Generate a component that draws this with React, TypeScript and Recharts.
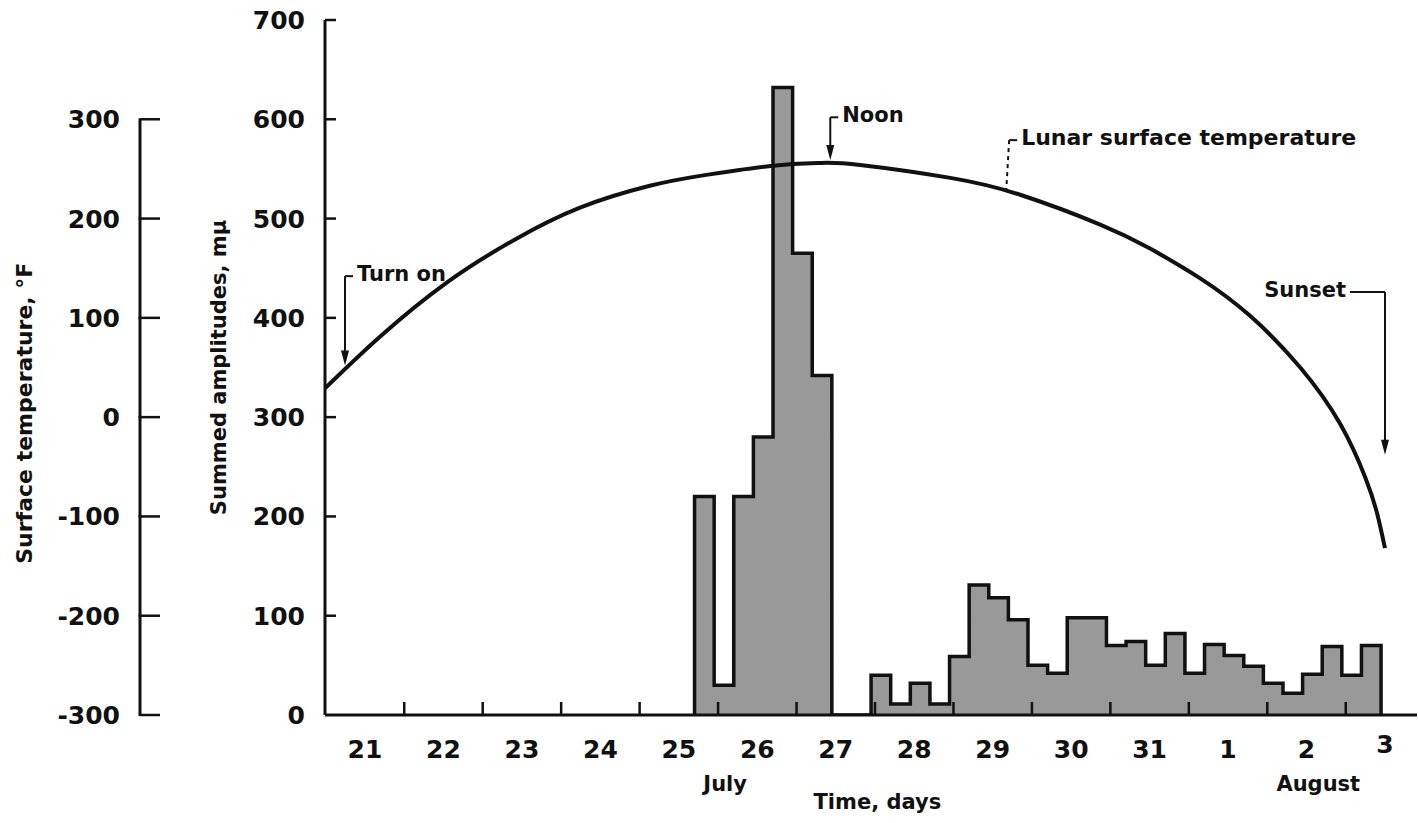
import React from 'react';
import { ComposedChart, Area, Line, XAxis, YAxis, ReferenceLine } from 'recharts';

// ---------- layout ----------
const CHART_W = 1418;
const CHART_H = 823;
const MARGIN = { top: 20, right: 1, bottom: 0, left: 0 };
const TEMP_AXIS_W = 140;
const AMP_AXIS_W = 185;
const DAY_AXIS_H = 108;
const PLOT_H = CHART_H - MARGIN.top - MARGIN.bottom - DAY_AXIS_H;

const FONT = "'DejaVu Sans', 'Liberation Sans', sans-serif";
const INK = '#111';
const BAR_FILL = '#999999';

// ---------- x axis (days) ----------
const dayDomain = [20.49, 34.408];
const dayTicks = [21, 22, 23, 24, 25, 26, 27, 28, 29, 30, 31, 32, 33, 34];
const dayLabels = ['21', '22', '23', '24', '25', '26', '27', '28', '29', '30', '31', '1', '2', '3'];
const dayMarks = [21.5, 22.5, 23.5, 24.5, 25.5, 26.5, 27.5, 28.5, 29.5, 30.5, 31.5, 32.5, 33.5];
const monthDays = [25.59, 33.15];
const monthNames = ['July', 'August'];
const xTitleDay = 27.53;
const xTitle = 'Time, days';

// ---------- y axes ----------
const ampDomain = [0, 700];
const ampTicks = [0, 100, 200, 300, 400, 500, 600, 700];
const ampTitleAt = 350;
const ampTitle = 'Summed amplitudes, m\u03bc';

const tempDomain = [-300, 400];
const tempTicks = [-300, -200, -100, 0, 100, 200, 300];
const tempTitleAt = 4;
const tempTitle = 'Surface temperature, \u00b0F';

// ---------- histogram (quarter-day bins) ----------
const binStart = 25.2;
const binWidth = 0.25;
const binAmplitudes = [
  220, 30, 220, 280, 632, 465, 342, 0, 0,
  40, 11, 32, 11, 59, 131, 118, 96, 50, 42,
  98, 98, 70, 74, 50, 82, 42, 71, 60, 49,
  32, 22, 41, 69, 40, 70,
];

// ---------- lunar surface temperature ----------
const tempDays = [20.49, 21.19, 22.05, 22.89, 23.74, 24.63, 25.27, 26.17, 26.8, 27.31, 28.46, 29.35, 30.37, 31.0, 31.64, 32.28, 32.92, 33.43, 33.75, 33.9, 34.0];
const tempValues = [29, 81, 136, 178, 211, 233, 243, 253, 256, 254, 241, 224, 194, 170, 140, 102, 50, -7, -61, -97, -132];

// ---------- annotations ----------
const annotLabels = ['Turn on', 'Noon', 'Lunar surface temperature', 'Sunset'];
const annotDays = [20.745, 26.93, 29.21, 34.0];
const annotTipDays = [20.745, 26.93, 29.17, 34.0];
const annotTop = [442, 602, 579, 426];
const annotTip = [352, 559, 525, 262];
const annotSide = ['right', 'right', 'right', 'left'];
const annotDashed = [false, false, true, false];
const annotArrow = [true, true, false, true];
const annotFontSize = [21, 21, 22, 21];

// ---------- derived tables ----------
const histData = [
  { day: binStart, amp: 0 },
  ...binAmplitudes.map((a, i) => ({ day: binStart + i * binWidth, amp: a })),
  { day: binStart + binAmplitudes.length * binWidth, amp: 0 },
];
const tempData = tempDays.map((d, i) => ({ day: d, temp: tempValues[i] }));
const xAxisTicks = [...dayTicks, ...dayMarks, ...monthDays, xTitleDay];

const textStyle = { fontFamily: FONT, fontWeight: 700, fill: INK } as const;

function DayTick(props: any) {
  const { x, y, payload } = props;
  const v = payload.value;
  const di = dayTicks.indexOf(v);
  if (di >= 0) {
    const raise = v === dayTicks[dayTicks.length - 1] ? 5 : 0;
    return (
      <text x={x} y={y + 43 - raise} textAnchor="middle" fontSize={25} {...textStyle}>
        {dayLabels[di]}
      </text>
    );
  }
  if (dayMarks.indexOf(v) >= 0) {
    return <line x1={x} x2={x} y1={y} y2={y - 13} stroke={INK} strokeWidth={2.5} />;
  }
  const mi = monthDays.indexOf(v);
  if (mi >= 0) {
    return (
      <text x={x} y={y + 76} textAnchor="middle" fontSize={21} {...textStyle}>
        {monthNames[mi]}
      </text>
    );
  }
  if (v === xTitleDay) {
    return (
      <text x={x} y={y + 94} textAnchor="middle" fontSize={21} {...textStyle}>
        {xTitle}
      </text>
    );
  }
  return null;
}

function AmpTick(props: any) {
  const { x, y, payload } = props;
  const v = payload.value;
  if (v === ampTitleAt) {
    return (
      <text x={x - 99} y={y} textAnchor="middle" fontSize={21} transform={`rotate(-90 ${x - 99} ${y})`} {...textStyle}>
        {ampTitle}
      </text>
    );
  }
  return (
    <g>
      {v !== ampTicks[0] && <line x1={x} x2={x + 11} y1={y} y2={y} stroke={INK} strokeWidth={2.5} />}
      <text x={x - 20} y={y + 9} textAnchor="end" fontSize={25} {...textStyle}>
        {v}
      </text>
    </g>
  );
}

const TEMP_STEP = (PLOT_H / (tempDomain[1] - tempDomain[0])) * 100;

function TempTick(props: any) {
  const { x, y, payload } = props;
  const v = payload.value;
  if (v === tempTitleAt) {
    return (
      <text x={x - 108} y={y} textAnchor="middle" fontSize={22} transform={`rotate(-90 ${x - 108} ${y})`} {...textStyle}>
        {tempTitle}
      </text>
    );
  }
  return (
    <g>
      <line x1={x} x2={x + 20} y1={y} y2={y} stroke={INK} strokeWidth={2.5} />
      {v > tempTicks[0] && (
        <line x1={x} x2={x} y1={y - 1} y2={y + TEMP_STEP + 1} stroke={INK} strokeWidth={3} />
      )}
      <text x={x - 20} y={y + 9} textAnchor="end" fontSize={25} {...textStyle}>
        {v}
      </text>
    </g>
  );
}

function makeAnnot(idx: number) {
  return (p: any) => {
    const { x1, y1, x2, y2 } = p;
    const dir = annotSide[idx] === 'left' ? -1 : 1;
    const bracketLen = annotSide[idx] === 'left' ? 35 : 8;
    const hasArrow = annotArrow[idx];
    const shaftEnd = hasArrow ? y2 - 12 : y2;
    return (
      <g>
        <line
          x1={x1}
          y1={y1}
          x2={x2}
          y2={shaftEnd}
          stroke={INK}
          strokeWidth={2}
          strokeDasharray={annotDashed[idx] ? '4 4' : undefined}
        />
        {hasArrow && <polygon points={`${x2 - 4},${y2 - 15} ${x2 + 4},${y2 - 15} ${x2},${y2}`} fill={INK} />}
        <line x1={x1} y1={y1} x2={x1 + dir * bracketLen} y2={y1} stroke={INK} strokeWidth={2} />
        <text
          x={x1 + dir * (bracketLen + 4)}
          y={y1 + 5}
          textAnchor={dir > 0 ? 'start' : 'end'}
          fontSize={annotFontSize[idx]}
          {...textStyle}
        >
          {annotLabels[idx]}
        </text>
      </g>
    );
  };
}

export default function App() {
  return (
    <div style={{ position: 'absolute', left: 0, top: 0, width: CHART_W, height: CHART_H, background: '#fff' }}>
      <ComposedChart width={CHART_W} height={CHART_H} margin={MARGIN}>
        <XAxis
          xAxisId="days"
          type="number"
          dataKey="day"
          domain={dayDomain}
          allowDataOverflow
          ticks={xAxisTicks}
          interval={0}
          height={DAY_AXIS_H}
          axisLine={{ stroke: INK, strokeWidth: 3 }}
          tickLine={false}
          tickSize={0}
          tickMargin={0}
          tick={<DayTick />}
        />
        <YAxis
          yAxisId="amp"
          type="number"
          domain={ampDomain}
          allowDataOverflow
          ticks={[...ampTicks, ampTitleAt]}
          interval={0}
          width={AMP_AXIS_W}
          axisLine={{ stroke: INK, strokeWidth: 3 }}
          tickLine={false}
          tickSize={0}
          tickMargin={0}
          tick={<AmpTick />}
        />
        <YAxis
          yAxisId="temp"
          type="number"
          domain={tempDomain}
          allowDataOverflow
          ticks={[...tempTicks, tempTitleAt]}
          interval={0}
          width={TEMP_AXIS_W}
          axisLine={false}
          tickLine={false}
          tickSize={0}
          tickMargin={0}
          tick={<TempTick />}
        />
        <Area
          xAxisId="days"
          yAxisId="amp"
          data={histData}
          dataKey="amp"
          type="stepAfter"
          fill={BAR_FILL}
          fillOpacity={1}
          stroke={INK}
          strokeWidth={3.5}
          dot={false}
          activeDot={false}
          isAnimationActive={false}
        />
        <Line
          xAxisId="days"
          yAxisId="temp"
          data={tempData}
          dataKey="temp"
          type="natural"
          stroke={INK}
          strokeWidth={4}
          dot={false}
          activeDot={false}
          isAnimationActive={false}
        />
        {annotLabels.map((label, i) => (
          <ReferenceLine
            key={label}
            xAxisId="days"
            yAxisId="amp"
            segment={[
              { x: annotDays[i], y: annotTop[i] },
              { x: annotTipDays[i], y: annotTip[i] },
            ]}
            ifOverflow="visible"
            shape={makeAnnot(i)}
          />
        ))}
      </ComposedChart>
    </div>
  );
}
